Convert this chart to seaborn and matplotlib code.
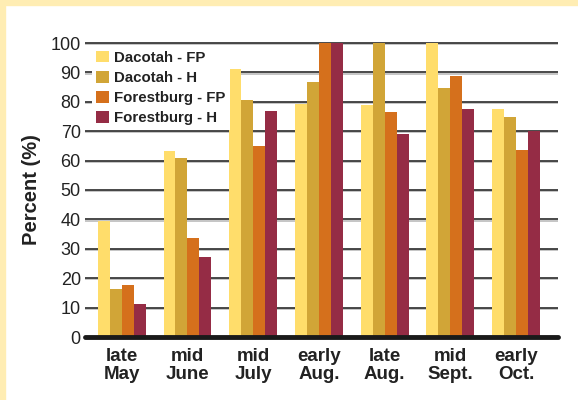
import pandas as pd
import matplotlib
matplotlib.use("Agg")
import matplotlib.pyplot as plt
from matplotlib.patches import Rectangle
import seaborn as sns

# data
periods = ['late\nMay', 'mid\nJune', 'mid\nJuly', 'early\nAug.', 'late\nAug.', 'mid\nSept.', 'early\nOct.']
series = ['Dacotah - FP', 'Dacotah - H', 'Forestburg - FP', 'Forestburg - H']
dacotah_fp = [39.4, 63.3, 91.2, 79.3, 79.0, 100, 77.6]
dacotah_h = [16.3, 60.9, 80.7, 86.8, 100, 84.8, 74.9]
forestburg_fp = [17.6, 33.6, 65.0, 100, 76.6, 88.9, 63.6]
forestburg_h = [11.1, 27.2, 76.9, 100, 69.1, 77.6, 70.1]
colors = ['#FFDD6B', '#D1A537', '#D5701C', '#952C45']

rows = []
for name, vals in zip(series, [dacotah_fp, dacotah_h, forestburg_fp, forestburg_h]):
    for p, v in zip(periods, vals):
        rows.append({'period': p, 'series': name, 'pct': v})
df = pd.DataFrame(rows)

sns.set_style('white')
plt.rcParams['font.family'] = ['Liberation Sans', 'DejaVu Sans']

fig = plt.figure(figsize=(5.78, 4.0), dpi=100)
fig.patch.set_facecolor('white')
# beige strips on left and top edge
fig.patches.append(Rectangle((0, 0), 5 / 578, 1, transform=fig.transFigure, color='#FFEDB3', zorder=0))
fig.patches.append(Rectangle((0, 1 - 5 / 400), 1, 5 / 400, transform=fig.transFigure, color='#FFEDB3', zorder=0))

pad = 1.47
ax = fig.add_axes([85 / 578, (63 - pad) / 400, 473 / 578, (294 + 2 * pad) / 400])

sns.barplot(data=df, x='period', y='pct', hue='series', palette=colors,
            width=0.73, saturation=1, ax=ax, edgecolor='none', linewidth=0)

ax.set_xlim(-0.56, 6.64)
ax.set_ylim(-0.5, 100.5)
ax.set_yticks(range(0, 101, 10))
ax.set_axisbelow(True)
for y in range(10, 101, 10):
    ax.axhline(y - 0.4, color='#BBBBBB', lw=1.2, zorder=0)
    ax.axhline(y, color='#3A3A3A', lw=1.3, zorder=0.5)
ax.axhline(0, color='#1A1A1A', lw=3.5, zorder=3, clip_on=False)
for s in ax.spines.values():
    s.set_visible(False)

ax.tick_params(axis='y', length=0, pad=3, labelsize=13, labelcolor='#222222')
ax.tick_params(axis='x', length=0, pad=7)
for lbl in ax.get_xticklabels():
    lbl.set_fontweight('bold')
    lbl.set_fontsize(13.5)
    lbl.set_linespacing(1.1)
    lbl.set_color('#222222')

ax.set_xlabel('')
ax.set_ylabel('Percent (%)', fontsize=14.5, fontweight='bold', color='#222222', labelpad=7)

leg = ax.legend(loc='upper left', bbox_to_anchor=(0.008, 0.995), frameon=True,
                prop={'weight': 'bold', 'size': 10.8}, handlelength=0.85, handleheight=0.85,
                handletextpad=0.35, labelspacing=0.4, borderaxespad=0.2, borderpad=0.3,
                fancybox=False, framealpha=1)
leg.get_frame().set_facecolor('white')
leg.get_frame().set_edgecolor('none')
leg.set_zorder(10)
for t in leg.get_texts():
    t.set_color('#222222')

fig.savefig('out.png', dpi=100)
